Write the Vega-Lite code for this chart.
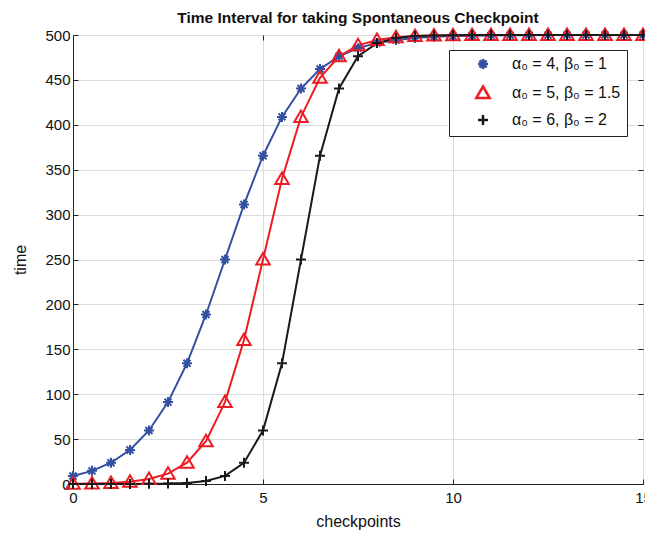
{
  "$schema": "https://vega.github.io/schema/vega-lite/v6.json",
  "width": 570,
  "height": 449,
  "autosize": {"type": "none"},
  "padding": {"left": 73, "top": 35, "right": 2, "bottom": 49},
  "background": "white",
  "title": {"text": "Time Interval for taking Spontaneous Checkpoint", "font": "Liberation Sans", "fontSize": 15.5, "fontWeight": "bold", "color": "#111", "anchor": "middle", "offset": -2},
  "config": {
    "view": {"stroke": "#222", "strokeWidth": 1},
    "axis": {"labelFont": "Liberation Sans", "labelFontSize": 15, "labelColor": "#111", "titleFont": "Liberation Sans", "titleFontSize": 16, "titleFontWeight": "normal", "titleColor": "#111", "domainColor": "#222", "tickColor": "#222", "gridColor": "#dcdcdc", "gridWidth": 1},
    "legend": {
      "orient": "none", "legendX": 376, "legendY": 15, "title": null,
      "strokeColor": "#222", "fillColor": "white", "padding": 6,
      "labelFont": "Liberation Sans", "labelFontSize": 16, "labelColor": "#111",
      "symbolOffset": 20, "labelOffset": 21, "rowPadding": 7, "symbolStrokeWidth": 2.5
    }
  },
  "data": {"values": [
    {"x":0,"t":8.99,"s":"a"},{"x":0.5,"t":14.65,"s":"a"},{"x":1,"t":23.71,"s":"a"},{"x":1.5,"t":37.93,"s":"a"},{"x":2,"t":59.6,"s":"a"},{"x":2.5,"t":91.21,"s":"a"},{"x":3,"t":134.47,"s":"a"},{"x":3.5,"t":188.77,"s":"a"},{"x":4,"t":250,"s":"a"},{"x":4.5,"t":311.23,"s":"a"},{"x":5,"t":365.53,"s":"a"},{"x":5.5,"t":408.79,"s":"a"},{"x":6,"t":440.4,"s":"a"},{"x":6.5,"t":462.07,"s":"a"},{"x":7,"t":476.29,"s":"a"},{"x":7.5,"t":485.35,"s":"a"},{"x":8,"t":491.01,"s":"a"},{"x":8.5,"t":494.51,"s":"a"},{"x":9,"t":496.65,"s":"a"},{"x":9.5,"t":497.96,"s":"a"},{"x":10,"t":498.76,"s":"a"},{"x":10.5,"t":499.25,"s":"a"},{"x":11,"t":499.55,"s":"a"},{"x":11.5,"t":499.72,"s":"a"},{"x":12,"t":499.83,"s":"a"},{"x":12.5,"t":499.9,"s":"a"},{"x":13,"t":499.94,"s":"a"},{"x":13.5,"t":499.96,"s":"a"},{"x":14,"t":499.98,"s":"a"},{"x":14.5,"t":499.99,"s":"a"},{"x":15,"t":499.99,"s":"a"},
    {"x":0,"t":0.28,"s":"b"},{"x":0.5,"t":0.59,"s":"b"},{"x":1,"t":1.24,"s":"b"},{"x":1.5,"t":2.61,"s":"b"},{"x":2,"t":5.49,"s":"b"},{"x":2.5,"t":11.49,"s":"b"},{"x":3,"t":23.71,"s":"b"},{"x":3.5,"t":47.67,"s":"b"},{"x":4,"t":91.21,"s":"b"},{"x":4.5,"t":160.41,"s":"b"},{"x":5,"t":250,"s":"b"},{"x":5.5,"t":339.59,"s":"b"},{"x":6,"t":408.79,"s":"b"},{"x":6.5,"t":452.33,"s":"b"},{"x":7,"t":476.29,"s":"b"},{"x":7.5,"t":488.51,"s":"b"},{"x":8,"t":494.51,"s":"b"},{"x":8.5,"t":497.39,"s":"b"},{"x":9,"t":498.76,"s":"b"},{"x":9.5,"t":499.41,"s":"b"},{"x":10,"t":499.72,"s":"b"},{"x":10.5,"t":499.87,"s":"b"},{"x":11,"t":499.94,"s":"b"},{"x":11.5,"t":499.97,"s":"b"},{"x":12,"t":499.99,"s":"b"},{"x":12.5,"t":499.99,"s":"b"},{"x":13,"t":500,"s":"b"},{"x":13.5,"t":500,"s":"b"},{"x":14,"t":500,"s":"b"},{"x":14.5,"t":500,"s":"b"},{"x":15,"t":500,"s":"b"},
    {"x":0,"t":0,"s":"c"},{"x":0.5,"t":0.01,"s":"c"},{"x":1,"t":0.02,"s":"c"},{"x":1.5,"t":0.06,"s":"c"},{"x":2,"t":0.17,"s":"c"},{"x":2.5,"t":0.46,"s":"c"},{"x":3,"t":1.24,"s":"c"},{"x":3.5,"t":3.35,"s":"c"},{"x":4,"t":8.99,"s":"c"},{"x":4.5,"t":23.71,"s":"c"},{"x":5,"t":59.6,"s":"c"},{"x":5.5,"t":134.47,"s":"c"},{"x":6,"t":250,"s":"c"},{"x":6.5,"t":365.53,"s":"c"},{"x":7,"t":440.4,"s":"c"},{"x":7.5,"t":476.29,"s":"c"},{"x":8,"t":491.01,"s":"c"},{"x":8.5,"t":496.65,"s":"c"},{"x":9,"t":498.76,"s":"c"},{"x":9.5,"t":499.55,"s":"c"},{"x":10,"t":499.83,"s":"c"},{"x":10.5,"t":499.94,"s":"c"},{"x":11,"t":499.98,"s":"c"},{"x":11.5,"t":499.99,"s":"c"},{"x":12,"t":500,"s":"c"},{"x":12.5,"t":500,"s":"c"},{"x":13,"t":500,"s":"c"},{"x":13.5,"t":500,"s":"c"},{"x":14,"t":500,"s":"c"},{"x":14.5,"t":500,"s":"c"},{"x":15,"t":500,"s":"c"}
  ]},
  "layer": [
    {
      "mark": {"type": "line", "strokeWidth": 2},
      "encoding": {
        "x": {"field": "x", "type": "quantitative", "scale": {"domain": [0, 15], "nice": false}, "axis": {"orient": "bottom", "values": [0, 5, 10, 15], "title": "checkpoints", "grid": true, "tickSize": -5, "labelPadding": 11, "titlePadding": 8, "labelFlush": false}},
        "y": {"field": "t", "type": "quantitative", "scale": {"domain": [0, 500], "nice": false}, "axis": {"orient": "left", "values": [0,50,100,150,200,250,300,350,400,450,500], "title": "time", "grid": true, "tickSize": -5, "labelPadding": 8, "titlePadding": 16}},
        "color": {"field": "s", "type": "nominal", "scale": {"domain": ["a", "b", "c"], "range": ["#3450a2", "#ec1c24", "#1a1a1a"]}}
      }
    },
    {
      "mark": {"type": "point", "filled": false, "size": 100, "strokeWidth": 2, "opacity": 1},
      "encoding": {
        "x": {"field": "x", "type": "quantitative", "axis": {"orient": "top", "values": [0, 5, 10, 15], "title": null, "labels": false, "grid": false, "tickSize": -5, "domain": false}},
        "y": {"field": "t", "type": "quantitative", "axis": {"orient": "right", "values": [0,50,100,150,200,250,300,350,400,450,500], "title": null, "labels": false, "grid": false, "tickSize": -5, "domain": false}},
        "color": {"field": "s", "type": "nominal", "legend": {
          "labelExpr": "datum.value == 'a' ? 'α₀ = 4, β₀ = 1' : datum.value == 'b' ? 'α₀ = 5, β₀ = 1.5' : 'α₀ = 6, β₀ = 2'"
        }},
        "shape": {"field": "s", "type": "nominal", "scale": {"domain": ["a", "b", "c"], "range": ["M-1,0L1,0M0,-1L0,1M-0.7,-0.7L0.7,0.7M-0.7,0.7L0.7,-0.7", "M0,-1.3L1.35,1L-1.35,1Z", "M-1,0L1,0M0,-1L0,1"]}, "legend": {
          "labelExpr": "datum.value == 'a' ? 'α₀ = 4, β₀ = 1' : datum.value == 'b' ? 'α₀ = 5, β₀ = 1.5' : 'α₀ = 6, β₀ = 2'"
        }}
      }
    }
  ],
  "resolve": {"axis": {"x": "independent", "y": "independent"}}
}
